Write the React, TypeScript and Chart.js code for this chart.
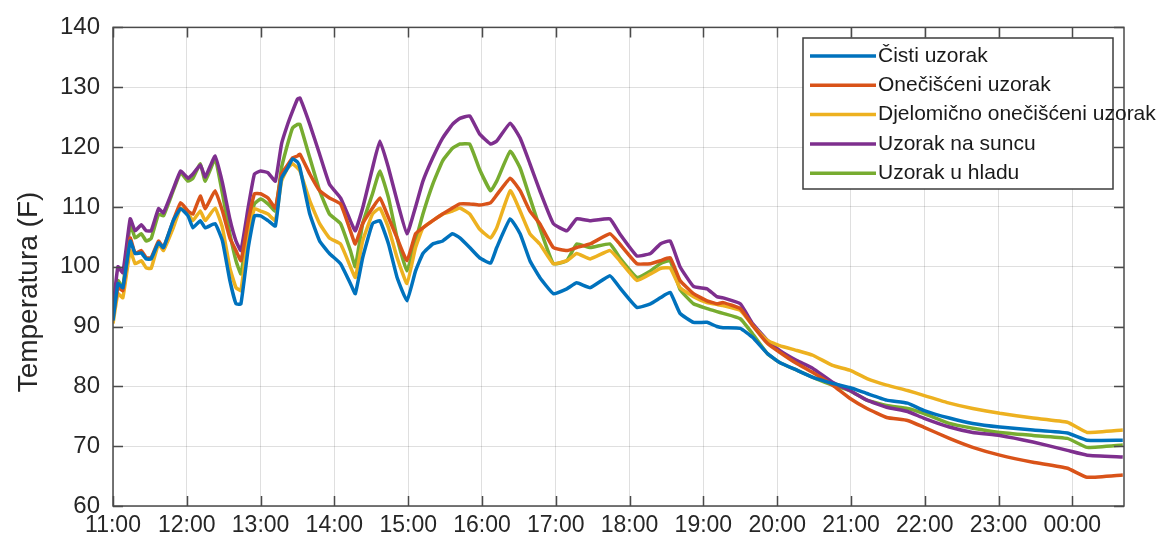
import { useEffect, useRef } from 'react';
import { Chart, registerables } from 'chart.js';

Chart.register(...registerables);

const FONT = '"Liberation Sans", Arial, Helvetica, sans-serif';

// minutes after 11:00
const TIME_MIN = [
  0, 4, 8, 14, 18, 23, 27, 31, 37, 41,
  49, 55, 61, 65, 71, 75, 83, 89, 95, 100,
  104, 110, 115, 120, 126, 132, 137, 142, 146, 150,
  152, 160, 168, 176, 185, 193, 197, 203, 211, 217,
  224, 231, 239, 246, 252, 260, 268, 276, 282, 290,
  298, 307, 312, 323, 331, 339, 347, 358, 369, 377,
  388, 404, 412, 426, 437, 445, 453, 461, 472, 483,
  491, 496, 510, 520, 532, 542, 556, 569, 585, 599,
  613, 629, 646, 659, 680, 699, 721, 748, 776, 792, 821,
];

const CISTI = [
  91, 97.2, 96.5, 104.3, 102.2, 102.3, 101.3, 101.3, 104, 103.2,
  107.7, 109.7, 108.5, 106.5, 107.7, 106.5, 107.2, 104.3, 97.7, 93.8,
  93.8, 103.2, 108.5, 108.5, 107.7, 106.8, 114.8, 116.5, 118, 117.5,
  116.5, 108.8, 104.3, 102.2, 100.5, 97.2, 95.5, 101.5, 107.2, 107.7,
  103.8, 98.2, 94.3, 99.3, 102.2, 103.8, 104.3, 105.5, 104.8, 103.2,
  101.5, 100.6, 103.2, 108, 105.5, 101, 98.2, 95.5, 96.3, 97.3,
  96.5, 98.5, 96.5, 93.2, 93.8, 94.8, 95.7, 92.2, 90.7, 90.7,
  90, 89.8, 89.7, 88.2, 85.5, 84, 82.7, 81.5, 80.5, 79.8,
  78.8, 77.7, 77.2, 76, 74.7, 73.8, 73.2, 72.7, 72.2, 71, 71,
];

const ONECISCENI = [
  91.5, 96.5, 96, 104.8, 102.2, 102.7, 101.5, 101.5, 104.3, 103.2,
  107.7, 110.7, 109.3, 108.8, 111.8, 109.7, 112.7, 109.3, 104.8, 102.7,
  101, 107.7, 112.2, 112.2, 111.5, 109.8, 115.5, 117, 118.2, 118.5,
  118.8, 115.5, 112.7, 111.5, 110.5, 106, 103.8, 107.2, 109.8, 111.5,
  108.2, 104.8, 101, 105.5, 106.5, 107.7, 108.8, 109.8, 110.5, 110.5,
  110.3, 110.7, 112, 114.8, 112.7, 109.3, 107.2, 103.2, 102.7, 103.2,
  103.8, 105.5, 103.8, 100.5, 100.5, 101, 101.5, 97.7, 95.5, 94.3,
  93.8, 94, 93, 90.2, 87.2, 85.7, 83.8, 82.3, 80.2, 78,
  76.3, 74.8, 74.3, 73.2, 71.3, 69.8, 68.5, 67.3, 66.3, 64.8, 65.2,
];

const DJELOMICNO = [
  90.5, 95.5, 94.8, 102.7, 100.5, 101, 99.8, 99.7, 103.8, 102.7,
  106.5, 109.8, 109, 107.7, 109.3, 107.7, 109.8, 106.5, 99.8, 96.5,
  96, 105.5, 109.7, 109.3, 108.8, 107.7, 114.3, 116.5, 117.2, 116.5,
  116, 111, 107.2, 104.8, 103.8, 100, 98.2, 104.3, 108.8, 109.8,
  106.5, 101.5, 97.2, 103.2, 106.5, 107.7, 108.8, 109.3, 109.8, 108.8,
  106.3, 104.8, 106.5, 112.7, 109.3, 105.5, 103.8, 100.5, 101, 102.2,
  101.3, 102.7, 101, 97.7, 98.8, 99.7, 99.8, 96.5, 95, 94,
  93.7, 93.5, 92.7, 90.2, 87.7, 86.8, 86, 85.2, 83.5, 82.7,
  81.3, 80.2, 79.3, 78.5, 77.2, 76.3, 75.5, 74.7, 74, 72.3, 72.7,
];

const SUNCE = [
  93, 100, 99, 108, 106, 107, 106, 106, 109.7, 109,
  113, 116, 114.8, 115.5, 117, 115, 118.5, 114, 108, 104.3,
  102.7, 110, 115.5, 116, 115.7, 114.3, 120.5, 123.8, 126, 128,
  128.2, 123.8, 118.8, 113.8, 111.5, 107.7, 106, 109.8, 116.5, 121,
  116.5, 111, 105.5, 110, 114.3, 118.2, 121.5, 123.8, 124.8, 125.2,
  122.2, 120.5, 121, 124, 121.5, 117.2, 112.7, 107.2, 106, 108,
  107.7, 108, 105.5, 101.8, 102.2, 103.8, 104.3, 100, 96.7, 96.3,
  95, 94.8, 93.8, 90.5, 87.7, 86, 84.3, 83, 80.7, 79.3,
  77.7, 76.5, 75.8, 74.7, 73.2, 72.3, 71.8, 70.7, 69.3, 68.5, 68.2,
];

const HLAD = [
  92.7, 97.7, 96.5, 107.2, 104.8, 105.5, 104.3, 104.7, 108.8, 108.5,
  112.7, 115.7, 114.3, 114.8, 117.2, 114.3, 118, 112.2, 105.5, 101,
  98.8, 106.5, 110.5, 111.3, 110.5, 109.3, 116.5, 120.5, 123.2, 123.8,
  123.8, 118.2, 112.7, 108.8, 107.2, 102.7, 100, 107.2, 112.2, 116,
  111.5, 104.8, 99.3, 104.3, 108.8, 113.8, 117.7, 119.8, 120.5, 120.5,
  116.3, 112.7, 114.3, 119.3, 116.5, 111.5, 106.5, 100.5, 101, 103.8,
  103.2, 103.8, 101.5, 98.2, 99.3, 100.5, 101, 96.2, 93.8, 93,
  92.5, 92.2, 91.3, 88.8, 85.5, 84, 82.7, 81.5, 80.2, 79.3,
  77.7, 76.8, 76.3, 75.5, 73.8, 73, 72.3, 71.8, 71.3, 69.8, 70.2,
];

const SERIES_LABELS = [
  'Čisti uzorak',
  'Onečišćeni uzorak',
  'Djelomično onečišćeni uzorak',
  'Uzorak na suncu',
  'Uzorak u hladu',
];
const SERIES_COLORS = ['#0072BD', '#D95319', '#EDB120', '#7E2F8E', '#77AC30'];
const SERIES_VALUES = [CISTI, ONECISCENI, DJELOMICNO, SUNCE, HLAD];

const X_TICK_LABELS = [
  '11:00', '12:00', '13:00', '14:00', '15:00', '16:00', '17:00',
  '18:00', '19:00', '20:00', '21:00', '22:00', '23:00', '00:00',
];
const Y_TICKS = [60, 70, 80, 90, 100, 110, 120, 130, 140];
const X_MAX = 822;
const Y_TITLE = 'Temperatura (F)';

const boxPlugin = {
  id: 'matlabBox',
  afterDatasetsDraw(chart: any) {
    const { ctx, chartArea: a, scales } = chart;
    ctx.save();
    ctx.strokeStyle = '#4a4a4a';
    ctx.lineWidth = 1.5;
    ctx.beginPath();
    const tl = 10;
    for (const v of Y_TICKS) {
      const y = Math.round(scales.y.getPixelForValue(v)) + 0.5;
      ctx.moveTo(a.left, y); ctx.lineTo(a.left + tl, y);
      ctx.moveTo(a.right, y); ctx.lineTo(a.right - tl, y);
    }
    X_TICK_LABELS.forEach((_, i) => {
      const x = Math.round(scales.x.getPixelForValue(i * 60)) + 0.5;
      ctx.moveTo(x, a.bottom); ctx.lineTo(x, a.bottom - tl);
      ctx.moveTo(x, a.top); ctx.lineTo(x, a.top + tl);
    });
    ctx.stroke();
    ctx.strokeRect(a.left, a.top, a.right - a.left, a.bottom - a.top);
    ctx.restore();
  },
};

const titlePlugin = {
  id: 'yTitle',
  afterDraw(chart: any) {
    const ctx = chart.ctx;
    ctx.save();
    ctx.translate(29, 292);
    ctx.rotate(-Math.PI / 2);
    ctx.font = `28px ${FONT}`;
    ctx.fillStyle = '#262626';
    ctx.textAlign = 'center';
    ctx.textBaseline = 'middle';
    ctx.fillText(Y_TITLE, 0, 0);
    ctx.restore();
  },
};

const legendPlugin = {
  id: 'matlabLegend',
  afterDraw(chart: any) {
    const ctx = chart.ctx;
    const x0 = 803, y0 = 38, w = 310, h = 151;
    ctx.save();
    ctx.fillStyle = '#ffffff';
    ctx.fillRect(x0, y0, w, h);
    ctx.strokeStyle = '#3c3c3c';
    ctx.lineWidth = 1.5;
    ctx.strokeRect(x0, y0, w, h);
    ctx.font = `21px ${FONT}`;
    ctx.textBaseline = 'middle';
    ctx.textAlign = 'left';
    chart.data.datasets.forEach((ds: any, i: number) => {
      const y = 56 + i * 29.3;
      ctx.strokeStyle = ds.borderColor;
      ctx.lineWidth = 3.5;
      ctx.beginPath();
      ctx.moveTo(810, y);
      ctx.lineTo(876, y);
      ctx.stroke();
      ctx.fillStyle = '#1a1a1a';
      ctx.fillText(ds.label, 878, y);
    });
    ctx.restore();
  },
};

export default function App() {
  const ref = useRef<HTMLCanvasElement>(null);

  useEffect(() => {
    document.body.style.margin = '0';
    const canvas = ref.current!;
    const chart = new Chart(canvas, {
      type: 'line',
      data: {
        datasets: SERIES_VALUES.map((vals, i) => ({
          label: SERIES_LABELS[i],
          data: vals.map((v, j) => ({ x: TIME_MIN[j], y: v })),
          borderColor: SERIES_COLORS[i],
          backgroundColor: SERIES_COLORS[i],
          borderWidth: 3.5,
          pointRadius: 0,
          tension: 0.12,
          fill: false,
        })),
      },
      options: {
        responsive: false,
        animation: false,
        devicePixelRatio: 1,
        layout: { padding: { left: 0, top: 26, right: 37, bottom: 0 } },
        plugins: {
          legend: { display: false },
          tooltip: { enabled: false },
        },
        scales: {
          x: {
            type: 'linear',
            min: 0,
            max: X_MAX,
            afterBuildTicks: (scale: any) => {
              scale.ticks = X_TICK_LABELS.map((_, i) => ({ value: i * 60 }));
            },
            afterFit: (scale: any) => { scale.height = 36; },
            ticks: {
              autoSkip: false,
              maxRotation: 0,
              padding: 6,
              color: '#262626',
              font: { family: FONT, size: 23 },
              callback: (v: any) => X_TICK_LABELS[Math.round(Number(v) / 60)] ?? '',
            },
            grid: { color: 'rgba(38,38,38,0.15)', lineWidth: 1, drawTicks: false },
            border: { display: false },
          },
          y: {
            type: 'linear',
            min: 60,
            max: 140,
            afterBuildTicks: (scale: any) => {
              scale.ticks = Y_TICKS.map((v) => ({ value: v }));
            },
            afterFit: (scale: any) => { scale.width = 113; },
            ticks: {
              padding: 13,
              color: '#262626',
              font: { family: FONT, size: 24 },
            },
            grid: { color: 'rgba(38,38,38,0.15)', lineWidth: 1, drawTicks: false },
            border: { display: false },
          },
        },
      },
      plugins: [boxPlugin, legendPlugin, titlePlugin],
    });
    return () => chart.destroy();
  }, []);

  return (
    <div style={{ position: 'fixed', left: 0, top: 0, width: 1161, height: 542, background: '#fff' }}>
      <canvas ref={ref} width={1161} height={542} style={{ width: 1161, height: 542 }} />
    </div>
  );
}
